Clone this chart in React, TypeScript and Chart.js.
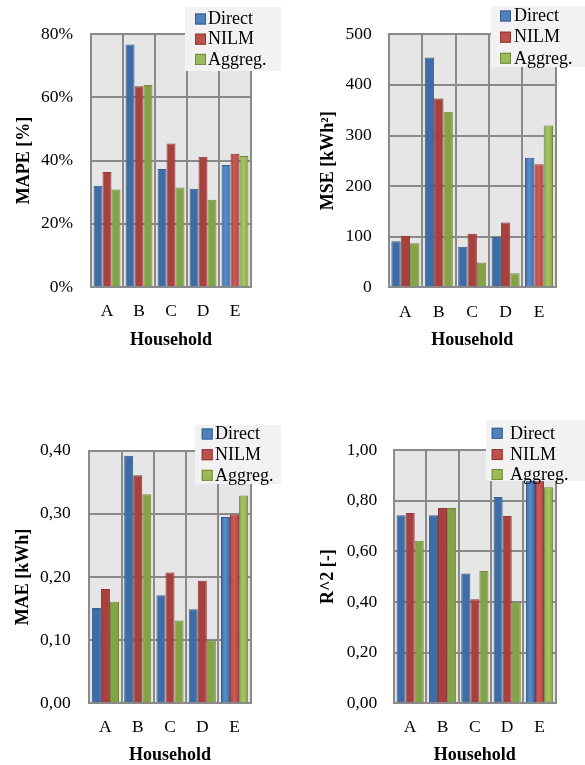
import React, { useEffect, useRef } from "react";
import { Chart, registerables } from "chart.js";

Chart.register(...registerables);

// ---------- data ----------
const households = ["A", "B", "C", "D", "E"];
const seriesNames = ["Direct", "NILM", "Aggreg."];

const mapeDirect = [32.0, 76.7, 37.3, 31.1, 38.6];
const mapeNilm = [36.4, 63.5, 45.4, 41.2, 42.1];
const mapeAggreg = [30.8, 63.9, 31.5, 27.6, 41.4];
const mapeTicks = [0, 20, 40, 60, 80];

const mseDirect = [91, 454, 80, 100, 256];
const mseNilm = [102, 373, 106, 128, 243];
const mseAggreg = [87, 347, 49, 28, 320];
const mseTicks = [0, 100, 200, 300, 400, 500];

const maeDirect = [0.151, 0.392, 0.171, 0.149, 0.295];
const maeNilm = [0.181, 0.361, 0.207, 0.194, 0.299];
const maeAggreg = [0.161, 0.331, 0.131, 0.1, 0.329];
const maeTicks = [0, 0.1, 0.2, 0.3, 0.4];

const r2Direct = [0.742, 0.742, 0.512, 0.814, 0.89];
const r2Nilm = [0.751, 0.771, 0.411, 0.739, 0.88];
const r2Aggreg = [0.642, 0.771, 0.522, 0.399, 0.853];
const r2Ticks = [0, 0.2, 0.4, 0.6, 0.8, 1.0];

// ---------- styles ----------
const fills = ["#4F81BD", "#C0504D", "#9BBB59"];
const fillEdges = ["#3D6CA6", "#A8413E", "#84A346"];
const fillCenters = ["#5A8DCB", "#CC5C59", "#A7C766"];
const borders = ["#385D8A", "#8C3836", "#71893F"];
const gridColor = "#8a8a8a";
const plotBg = "#e6e6e6";
const legendBg = "#f2f2f2";
const FONT = "'Liberation Serif', 'Times New Roman', serif";

const pct = (v: number) => `${v}%`;
const plain = (v: number) => `${v}`;
const comma2 = (v: number) => v.toFixed(2).replace(".", ",");

type LegendSpec = { x: number; y: number; w: number; h: number; sx: number; tx: number; rows: number[] };
type PanelSpec = {
  left: number; top: number; width: number; height: number;
  data: number[][]; ticks: number[]; fmt: (v: number) => string; yTitle: string;
  pad: { left: number; right: number; top: number; bottom: number };
  yWidth: number; xHeight: number; yTickPad: number; xTickPad: number;
  yTitlePad: number; xTitlePad: number; legend: LegendSpec;
};

const panels: PanelSpec[] = [
  {
    left: 0, top: 0, width: 290, height: 360,
    data: [mapeDirect, mapeNilm, mapeAggreg], ticks: mapeTicks, fmt: pct, yTitle: "MAPE [%]",
    pad: { left: 0, right: 39, top: 34, bottom: 0 },
    yWidth: 91, xHeight: 73, yTickPad: 18, xTickPad: 16, yTitlePad: 15, xTitlePad: 11,
    legend: { x: 185, y: 7, w: 96, h: 64, sx: 195, tx: 208, rows: [19, 39.2, 59.4] },
  },
  {
    left: 290, top: 0, width: 295, height: 360,
    data: [mseDirect, mseNilm, mseAggreg], ticks: mseTicks, fmt: plain, yTitle: "MSE [kWh²]",
    pad: { left: 0, right: 29.3, top: 34.3, bottom: 0 },
    yWidth: 98.7, xHeight: 72.7, yTickPad: 17, xTickPad: 16, yTitlePad: 29.3, xTitlePad: 11,
    legend: { x: 201, y: 6, w: 94, h: 61, sx: 210, tx: 224, rows: [16, 37.2, 58.3] },
  },
  {
    left: 0, top: 400, width: 290, height: 365,
    data: [maeDirect, maeNilm, maeAggreg], ticks: maeTicks, fmt: comma2, yTitle: "MAE [kWh]",
    pad: { left: 0, right: 39.3, top: 50.7, bottom: 0 },
    yWidth: 89.3, xHeight: 61.7, yTickPad: 18.6, xTickPad: 15.6, yTitlePad: 14.3, xTitlePad: 1,
    legend: { x: 195, y: 25, w: 86, h: 59, sx: 201.7, tx: 215, rows: [34, 54.7, 75.3] },
  },
  {
    left: 290, top: 400, width: 295, height: 365,
    data: [r2Direct, r2Nilm, r2Aggreg], ticks: r2Ticks, fmt: comma2, yTitle: "R^2 [-]",
    pad: { left: 0, right: 29.3, top: 50, bottom: 0 },
    yWidth: 104, xHeight: 61.7, yTickPad: 16.7, xTickPad: 15.6, yTitlePad: 29.3, xTitlePad: 1,
    legend: { x: 196, y: 20, w: 99, h: 61, sx: 201.7, tx: 220, rows: [33.3, 54.5, 74.5] },
  },
];

function Panel({ spec }: { spec: PanelSpec }) {
  const ref = useRef<HTMLCanvasElement | null>(null);

  useEffect(() => {
    if (!ref.current) return;
    const bgPlugin = {
      id: "plotBg",
      beforeDraw(chart: any) {
        const { ctx, chartArea } = chart;
        ctx.save();
        ctx.fillStyle = plotBg;
        ctx.fillRect(chartArea.left, chartArea.top, chartArea.right - chartArea.left, chartArea.bottom - chartArea.top);
        ctx.restore();
      },
    };
    const gradPlugin = {
      id: "barGradient",
      beforeDatasetsDraw(chart: any) {
        const ctx = chart.ctx;
        chart.data.datasets.forEach((_ds: any, i: number) => {
          const meta = chart.getDatasetMeta(i);
          meta.data.forEach((el: any) => {
            const x0 = el.x - el.width / 2;
            const x1 = el.x + el.width / 2;
            const g = ctx.createLinearGradient(x0, 0, x1, 0);
            g.addColorStop(0, fillEdges[i]);
            g.addColorStop(0.45, fillCenters[i]);
            g.addColorStop(1, fillEdges[i]);
            if (el.options) el.options.backgroundColor = g;
          });
        });
      },
    };
    const lg = spec.legend;
    const legendPlugin = {
      id: "overlayLegend",
      afterDraw(chart: any) {
        const ctx = chart.ctx;
        ctx.save();
        ctx.fillStyle = legendBg;
        ctx.fillRect(lg.x, lg.y, lg.w, lg.h);
        chart.data.datasets.forEach((ds: any, i: number) => {
          const cy = lg.rows[i];
          ctx.fillStyle = ds.backgroundColor;
          ctx.fillRect(lg.sx, cy - 5.5, 11, 11);
          ctx.strokeStyle = ds.borderColor;
          ctx.lineWidth = 1;
          ctx.strokeRect(lg.sx + 0.5, cy - 5, 10, 10);
          ctx.fillStyle = "#000";
          ctx.font = `18px ${FONT}`;
          ctx.textBaseline = "middle";
          ctx.textAlign = "left";
          ctx.fillText(ds.label, lg.tx, cy + 0.5);
        });
        ctx.restore();
      },
    };

    const tickFont = { family: FONT, size: 17.5, lineHeight: 1 };
    const titleFont = { family: FONT, size: 18, weight: "bold" as const, lineHeight: 1 };

    const chart = new Chart(ref.current, {
      type: "bar",
      data: {
        labels: households,
        datasets: seriesNames.map((name, i) => ({
          label: name,
          data: spec.data[i],
          backgroundColor: fills[i],
          borderColor: borders[i],
          borderWidth: 1,
          categoryPercentage: 0.84,
          barPercentage: 1,
        })),
      },
      options: {
        responsive: false,
        maintainAspectRatio: false,
        animation: false,
        devicePixelRatio: 1,
        layout: { padding: spec.pad },
        plugins: { legend: { display: false }, tooltip: { enabled: false } },
        scales: {
          x: {
            grid: { offset: true, color: gridColor, lineWidth: 2, drawTicks: false },
            border: { display: true, color: gridColor, width: 2 },
            ticks: { font: tickFont, color: "#000", padding: spec.xTickPad, maxRotation: 0 },
            title: {
              display: true, text: "Household", font: titleFont, color: "#000",
              padding: { top: 0, bottom: spec.xTitlePad },
            },
            afterFit: (s: any) => { s.height = spec.xHeight; },
          },
          y: {
            min: spec.ticks[0],
            max: spec.ticks[spec.ticks.length - 1],
            afterBuildTicks: (s: any) => { s.ticks = spec.ticks.map((v) => ({ value: v })); },
            grid: { color: gridColor, lineWidth: 2, drawTicks: false },
            border: { display: true, color: gridColor, width: 2 },
            ticks: {
              font: tickFont, color: "#000", padding: spec.yTickPad,
              callback: (v: any) => spec.fmt(Number(v)),
            },
            title: {
              display: true, text: spec.yTitle, font: titleFont, color: "#000",
              padding: { top: spec.yTitlePad, bottom: 0 },
            },
            afterFit: (s: any) => { s.width = spec.yWidth; },
          },
        },
      },
      plugins: [bgPlugin, gradPlugin, legendPlugin],
    } as any);
    return () => chart.destroy();
  }, [spec]);

  return (
    <canvas
      ref={ref}
      width={spec.width}
      height={spec.height}
      style={{ position: "absolute", left: spec.left, top: spec.top, width: spec.width, height: spec.height, display: "block" }}
    />
  );
}

export default function App() {
  return (
    <div style={{ position: "absolute", left: 0, top: 0, width: 585, height: 765, background: "#fff", overflow: "hidden" }}>
      {panels.map((p, i) => (
        <Panel key={i} spec={p} />
      ))}
    </div>
  );
}
